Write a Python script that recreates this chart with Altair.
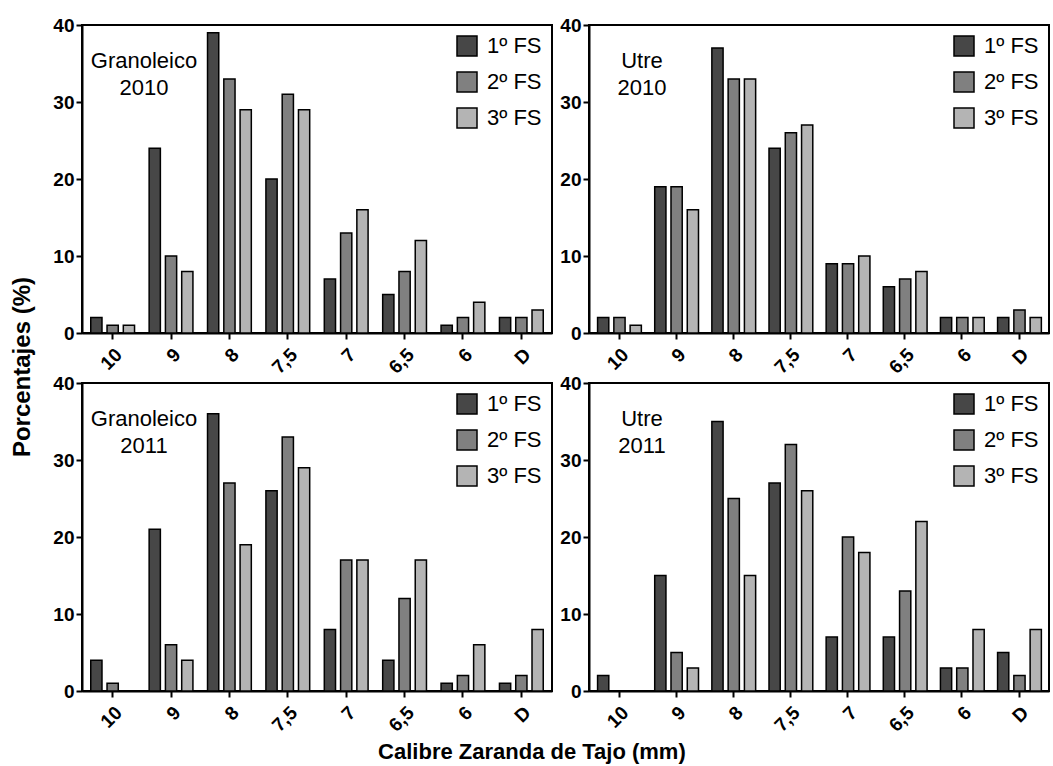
import altair as alt
import pandas as pd

categories = ["10", "9", "8", "7,5", "7", "6,5", "6", "D"]
series = ["1º FS", "2º FS", "3º FS"]
colors = ["#474747", "#808080", "#b4b4b4"]

granoleico_2010_fs1 = [2, 24, 39, 20, 7, 5, 1, 2]
granoleico_2010_fs2 = [1, 10, 33, 31, 13, 8, 2, 2]
granoleico_2010_fs3 = [1, 8, 29, 29, 16, 12, 4, 3]

utre_2010_fs1 = [2, 19, 37, 24, 9, 6, 2, 2]
utre_2010_fs2 = [2, 19, 33, 26, 9, 7, 2, 3]
utre_2010_fs3 = [1, 16, 33, 27, 10, 8, 2, 2]

granoleico_2011_fs1 = [4, 21, 36, 26, 8, 4, 1, 1]
granoleico_2011_fs2 = [1, 6, 27, 33, 17, 12, 2, 2]
granoleico_2011_fs3 = [0, 4, 19, 29, 17, 17, 6, 8]

utre_2011_fs1 = [2, 15, 35, 27, 7, 7, 3, 5]
utre_2011_fs2 = [0, 5, 25, 32, 20, 13, 3, 2]
utre_2011_fs3 = [0, 3, 15, 26, 18, 22, 8, 8]

y_ticks = [0, 10, 20, 30, 40]
FONT = "Liberation Sans"


def panel(vals, label, width, text_x):
    rows = []
    for s, v in zip(series, vals):
        for c, y in zip(categories, v):
            rows.append({"cal": c, "serie": s, "pct": y})
    df = pd.DataFrame(rows)
    bars = alt.Chart(df).mark_bar(stroke="black", strokeWidth=1.5).encode(
        x=alt.X("cal:N", sort=categories,
                scale=alt.Scale(paddingInner=0.25, paddingOuter=0.15),
                axis=alt.Axis(title=None, labelAngle=-45, labelAlign="right",
                              labelBaseline="top", labelPadding=6)),
        xOffset=alt.XOffset("serie:N", sort=series,
                            scale=alt.Scale(paddingInner=0.31, paddingOuter=0)),
        y=alt.Y("pct:Q", scale=alt.Scale(domain=[0, 40]),
                axis=alt.Axis(values=y_ticks, title=None, grid=False)),
        color=alt.Color("serie:N", sort=series,
                        scale=alt.Scale(domain=series, range=colors),
                        legend=alt.Legend(orient="top-right", title=None,
                                          symbolType="square", symbolSize=400,
                                          symbolStrokeColor="black",
                                          symbolStrokeWidth=1.5, symbolOpacity=1,
                                          labelFontSize=22, labelFont=FONT,
                                          labelColor="black", rowPadding=10,
                                          offset=10, padding=0, labelOffset=9)),
    )
    txt = alt.Chart(pd.DataFrame({"a": [0]})).mark_text(
        text=label, font=FONT, fontSize=22, lineHeight=27, align="center",
        baseline="middle", color="black"
    ).encode(x=alt.value(text_x), y=alt.value(36))
    return alt.layer(bars, txt).properties(width=width, height=308)


p1 = panel([granoleico_2010_fs1, granoleico_2010_fs2, granoleico_2010_fs3],
           ["Granoleico", "2010"], 470, 62)
p2 = panel([utre_2010_fs1, utre_2010_fs2, utre_2010_fs3],
           ["Utre", "2010"], 460, 53)
p3 = panel([granoleico_2011_fs1, granoleico_2011_fs2, granoleico_2011_fs3],
           ["Granoleico", "2011"], 470, 62)
p4 = panel([utre_2011_fs1, utre_2011_fs2, utre_2011_fs3],
           ["Utre", "2011"], 460, 53)

row1 = alt.hconcat(p1, p2, spacing=5).resolve_scale(color="independent").resolve_legend(color="independent")
row2 = alt.hconcat(p3, p4, spacing=5).resolve_scale(color="independent").resolve_legend(color="independent")

inner = alt.vconcat(
    row1, row2, spacing=-6,
    title=alt.TitleParams("Calibre Zaranda de Tajo (mm)", orient="bottom",
                          anchor="middle", fontSize=22, fontWeight="bold",
                          font=FONT, color="black", offset=6, dx=-19)
).resolve_scale(color="independent").resolve_legend(color="independent")

chart = alt.hconcat(
    inner,
    title=alt.TitleParams("Porcentajes (%)", orient="left", anchor="middle",
                          fontSize=24, fontWeight="bold", font=FONT,
                          color="black", offset=17, dx=22)
).resolve_scale(color="independent").resolve_legend(color="independent").properties(
    padding={"left": 10, "top": 15, "right": 0, "bottom": 0},
    background="white",
).configure_view(
    stroke="black", strokeWidth=2
).configure_axis(
    domainColor="black", domainWidth=2, tickColor="black", tickWidth=2,
    tickSize=6, labelColor="black", labelFont=FONT, labelFontSize=19,
    labelFontWeight="bold"
)

chart.save("out.html", embed_options={"renderer": "svg", "actions": False})
